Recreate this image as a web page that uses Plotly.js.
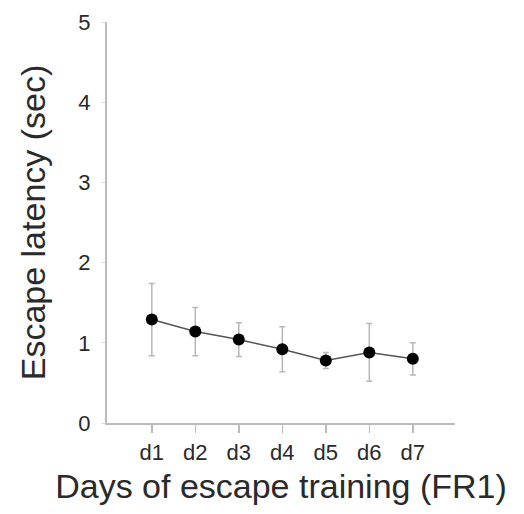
<!DOCTYPE html>
<html>
<head>
<meta charset="utf-8">
<script src="https://cdn.plot.ly/plotly-3.0.1.min.js"></script>
<style>html,body{margin:0;padding:0;background:#fff;}#chart{width:524px;height:514px;}</style>
</head>
<body>
<div id="chart"></div>
<script>
var days = ["d1", "d2", "d3", "d4", "d5", "d6", "d7"];
var latency = [1.29, 1.14, 1.04, 0.92, 0.78, 0.88, 0.80];
var errorSize = [0.45, 0.30, 0.21, 0.28, 0.10, 0.36, 0.20];
var yTicks = [0, 1, 2, 3, 4, 5];

var trace = {
  x: days,
  y: latency,
  type: "scatter",
  mode: "lines+markers",
  line: {color: "#555555", width: 1.5},
  marker: {color: "#000000", size: 12},
  error_y: {type: "data", array: errorSize, visible: true, color: "#b8b8b8", thickness: 1.5, width: 3},
  showlegend: false
};

var layout = {
  width: 524,
  height: 514,
  margin: {l: 107, r: 69, t: 22, b: 91},
  paper_bgcolor: "#ffffff",
  plot_bgcolor: "#ffffff",
  font: {family: "Liberation Sans, Arial, sans-serif", color: "#2a2a2a"},
  xaxis: {
    type: "category",
    range: [-1.03, 6.97],
    showgrid: false,
    zeroline: false,
    showline: true,
    linecolor: "#bbbbbb",
    linewidth: 2,
    ticks: "outside",
    ticklen: 8,
    tickcolor: "#bbbbbb",
    tickwidth: 1.5,
    tickfont: {size: 22, color: "#2a2a2a"},
    ticklabelstandoff: 1,
    title: {text: "Days of escape training (FR1)", font: {size: 34, color: "#2a2a2a"}, standoff: 10}
  },
  yaxis: {
    range: [0, 5],
    tickvals: yTicks,
    showgrid: false,
    zeroline: false,
    showline: true,
    linecolor: "#bbbbbb",
    linewidth: 2,
    ticks: "outside",
    ticklen: 4,
    tickcolor: "#dddddd",
    tickfont: {size: 22, color: "#2a2a2a"},
    ticklabelstandoff: 6,
    title: {text: "Escape latency (sec)", font: {size: 34, color: "#2a2a2a"}, standoff: 22}
  }
};

Plotly.newPlot("chart", [trace], layout, {displayModeBar: false, staticPlot: true});
</script>
</body>
</html>
